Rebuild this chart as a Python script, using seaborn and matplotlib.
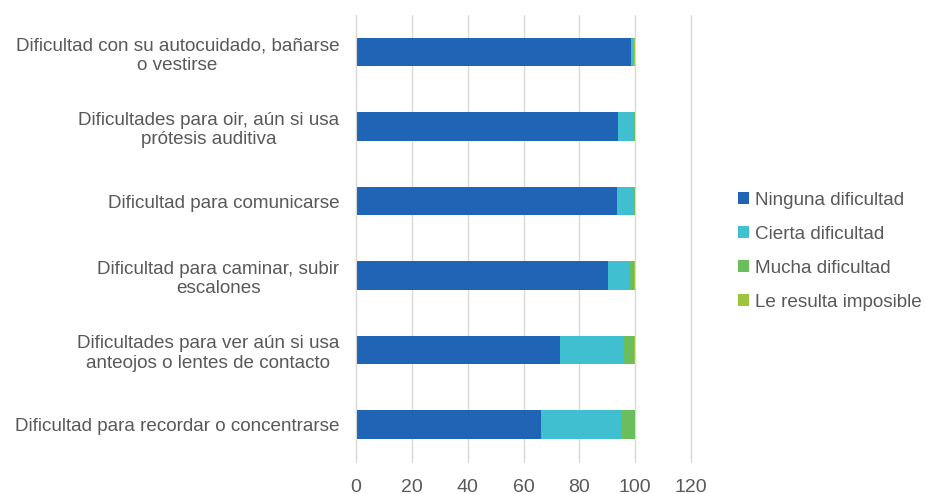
import pandas as pd
import matplotlib.pyplot as plt
import seaborn as sns

categorias = [
    'Dificultad con su autocuidado, bañarse\no vestirse',
    'Dificultades para oir, aún si usa\nprótesis auditiva',
    'Dificultad para comunicarse',
    'Dificultad para caminar, subir\nescalones',
    'Dificultades para ver aún si usa\nanteojos o lentes de contacto',
    'Dificultad para recordar o concentrarse',
]
ninguna = [98.6, 94.0, 93.4, 90.2, 73.0, 66.1]
cierta = [1.0, 5.5, 6.3, 7.6, 22.8, 29.2]
mucha = [0.1, 0.4, 0.2, 1.8, 3.8, 4.5]
imposible = [0.1, 0.1, 0.1, 0.4, 0.4, 0.2]

series = ['Ninguna dificultad', 'Cierta dificultad', 'Mucha dificultad', 'Le resulta imposible']
colores = ['#1f64b5', '#3fbfcf', '#6abf5c', '#9cc43c']

sns.set_style('white')
plt.rcParams['font.family'] = ['Liberation Sans', 'DejaVu Sans']

df = pd.DataFrame({'categoria': categorias, series[0]: ninguna, series[1]: cierta,
                   series[2]: mucha, series[3]: imposible})
acum = df[series].cumsum(axis=1)

fig = plt.figure(figsize=(9.25, 4.94), dpi=100)
ax = fig.add_axes([0.385, 0.065, 0.362, 0.905])

# barras apiladas: se dibuja el acumulado de mayor a menor
for nombre, color in reversed(list(zip(series, colores))):
    sns.barplot(x=acum[nombre], y=df['categoria'], color=color, orient='h',
                width=0.38, ax=ax, label=nombre, saturation=1, linewidth=0)

ax.set_xlim(0, 120)
ax.set_xticks(range(0, 121, 20))
ax.grid(axis='x', color='#d9d9d9', linewidth=1)
for gl in ax.get_xgridlines():
    gl.set_clip_on(False)
ax.set_axisbelow(True)
for s in ['top', 'right', 'bottom']:
    ax.spines[s].set_visible(False)
ax.spines['left'].set_color('#d9d9d9')
ax.set_xlabel('')
ax.set_ylabel('')
ax.tick_params(axis='x', length=0, labelsize=14, colors='#595959', pad=12)
ax.tick_params(axis='y', length=0, labelsize=13.6, colors='#595959', pad=12)
for t in ax.get_yticklabels():
    t.set_multialignment('center')

h, l = ax.get_legend_handles_labels()
ax.legend(h[::-1], l[::-1], loc='center left', bbox_to_anchor=(1.14, 0.471), frameon=False,
          fontsize=13.6, labelcolor='#595959', handlelength=0.6, handleheight=0.6,
          handletextpad=0.3, labelspacing=0.9, borderaxespad=0, borderpad=0)

fig.savefig('out.png', dpi=100)
